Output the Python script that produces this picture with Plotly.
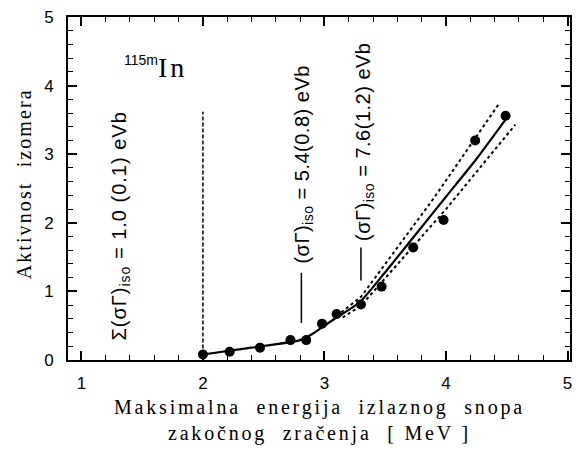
import plotly.graph_objects as go

# Measured isomer activity vs. maximum bremsstrahlung end-point energy
energy_mev = [2.00, 2.22, 2.47, 2.72, 2.85, 2.98, 3.10, 3.30, 3.47, 3.73, 3.98, 4.24, 4.49]
activity = [0.08, 0.12, 0.18, 0.29, 0.29, 0.53, 0.67, 0.81, 1.07, 1.64, 2.04, 3.20, 3.56]

# Fitted activity curve
fit_x = [2.00, 2.40, 2.80, 2.90, 3.00, 3.10, 3.20, 3.30, 3.50, 3.75, 4.00, 4.25, 4.50]
fit_y = [0.08, 0.18, 0.29, 0.38, 0.50, 0.62, 0.73, 0.86, 1.28, 1.83, 2.38, 2.93, 3.53]

# Uncertainty band of the last fitted segment
upper_x = [3.10, 3.30, 3.90, 4.43]
upper_y = [0.64, 0.92, 2.36, 3.72]
lower_x = [3.15, 3.30, 4.00, 4.57]
lower_y = [0.62, 0.79, 2.20, 3.43]

# Threshold marker (dashed) and level markers (short solid lines)
threshold_x = [2.0, 2.0]
threshold_y = [0.08, 3.62]
level1_x = [2.81, 2.81]
level1_y = [0.54, 1.27]
level2_x = [3.30, 3.30]
level2_y = [1.16, 1.64]

X_RANGE = [0.89, 5.02]
Y_RANGE = [0, 5]

SERIF = "Liberation Serif, Times New Roman, serif"
SANS = "Liberation Sans, Arial, sans-serif"
BLACK = "black"

fig = go.Figure()

fig.add_trace(go.Scatter(x=threshold_x, y=threshold_y, mode="lines",
                         line=dict(color=BLACK, width=1.5, dash="4px,2px"),
                         hoverinfo="skip"))
fig.add_trace(go.Scatter(x=level1_x, y=level1_y, mode="lines",
                         line=dict(color=BLACK, width=1.5), hoverinfo="skip"))
fig.add_trace(go.Scatter(x=level2_x, y=level2_y, mode="lines",
                         line=dict(color=BLACK, width=1.5), hoverinfo="skip"))
fig.add_trace(go.Scatter(x=upper_x, y=upper_y, mode="lines",
                         line=dict(color=BLACK, width=2, dash="dot")))
fig.add_trace(go.Scatter(x=lower_x, y=lower_y, mode="lines",
                         line=dict(color=BLACK, width=2, dash="dot")))
# fit curve on the minor-tick overlay axes, points on the major-tick overlay axes
# (all axes share identical ranges)
fig.add_trace(go.Scatter(x=fit_x, y=fit_y, mode="lines",
                         line=dict(color=BLACK, width=2.2, shape="spline", smoothing=0.6),
                         xaxis="x3", yaxis="y3"))
fig.add_trace(go.Scatter(x=energy_mev, y=activity, mode="markers",
                         marker=dict(color=BLACK, size=10), xaxis="x2", yaxis="y2"))

# main axes: frame and tick labels
label_axis = dict(showline=True, linecolor=BLACK, linewidth=2, mirror=True,
                  ticks="", showgrid=False, zeroline=False,
                  tickfont=dict(family=SANS, size=17, color=BLACK))
# overlay axes: inward tick marks on all four sides
major_ticks = dict(showline=False, showticklabels=False, mirror="ticks",
                   ticks="inside", ticklen=9, tickwidth=2, tickcolor=BLACK,
                   showgrid=False, zeroline=False, tickmode="linear", tick0=0, dtick=1)
minor_ticks = dict(showline=False, showticklabels=False, mirror="ticks",
                   ticks="inside", ticklen=5, tickwidth=1.3, tickcolor=BLACK,
                   showgrid=False, zeroline=False, tickmode="linear", tick0=0, dtick=0.2)

fig.update_layout(
    width=580, height=461,
    margin=dict(l=68, r=8, t=15, b=101),
    plot_bgcolor="white",
    showlegend=False,
    xaxis=dict(range=X_RANGE, dtick=1, ticklabelstandoff=7, **label_axis),
    yaxis=dict(range=Y_RANGE, dtick=1, ticklabelstandoff=9, **label_axis),
    xaxis2=dict(range=X_RANGE, overlaying="x", anchor="y2", **major_ticks),
    yaxis2=dict(range=Y_RANGE, overlaying="y", anchor="x2", **major_ticks),
    xaxis3=dict(range=X_RANGE, overlaying="x", anchor="y3", **minor_ticks),
    yaxis3=dict(range=Y_RANGE, overlaying="y", anchor="x3", **minor_ticks),
)

XLS = "letter-spacing:2.8px"
YLS = "letter-spacing:2.1px"
annotations = [
    # axis titles
    dict(xref="paper", yref="paper", x=0.5, y=-0.177, xanchor="center", yanchor="middle",
         text=f'<span style="{XLS}">Maksimalna  energija  izlaznog  snopa</span><br>'
              f'<span style="{XLS}">zakočnog  zračenja  [ MeV ]</span>',
         font=dict(family=SERIF, size=20, color=BLACK), showarrow=False),
    dict(xref="paper", yref="paper", x=-0.087, y=0.513, xanchor="center", yanchor="middle",
         textangle=-90,
         text=f'<span style="{YLS}">Aktivnost  izomera</span>',
         font=dict(family=SERIF, size=20, color=BLACK), showarrow=False),
    # isotope label
    dict(x=1.61, y=4.26, xanchor="center", yanchor="middle",
         text='<sup><span style="font-family:Liberation Sans;font-size:14px">115m</span></sup>'
              '<span style="letter-spacing:3px">In</span>',
         font=dict(family=SERIF, size=28, color=BLACK), showarrow=False),
    # integrated cross-section labels
    dict(x=1.32, y=0.25, xanchor="center", yanchor="bottom", textangle=-90,
         text='<span style="letter-spacing:1px">Σ(σΓ)<sub>iso</sub> = 1.0 (0.1) eVb</span>',
         font=dict(family=SANS, size=20, color=BLACK), showarrow=False),
    dict(x=2.82, y=1.37, xanchor="center", yanchor="bottom", textangle=-90,
         text='<span style="letter-spacing:0.5px">(σΓ)<sub>iso</sub> = 5.4(0.8) eVb</span>',
         font=dict(family=SANS, size=20, color=BLACK), showarrow=False),
    dict(x=3.33, y=1.70, xanchor="center", yanchor="bottom", textangle=-90,
         text='<span style="letter-spacing:0.5px">(σΓ)<sub>iso</sub> = 7.6(1.2) eVb</span>',
         font=dict(family=SANS, size=20, color=BLACK), showarrow=False),
]
fig.update_layout(annotations=annotations)

fig.write_html("out.html")
